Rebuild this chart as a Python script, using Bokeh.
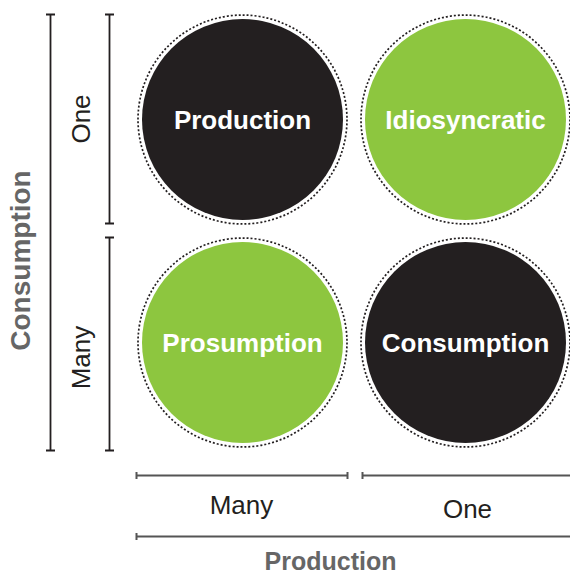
import math
from bokeh.plotting import figure
from bokeh.models import Range1d, ColumnDataSource
from bokeh.core.properties import value
from bokeh.embed import file_html
from bokeh.resources import INLINE

# ---- data ----
production_levels = ["Many", "One"]          # x categories, left to right
consumption_levels = ["Many", "One"]         # y categories, bottom to top
quadrant_production = ["Many", "One", "Many", "One"]
quadrant_consumption = ["One", "One", "Many", "Many"]
quadrant_labels = ["Production", "Idiosyncratic", "Prosumption", "Consumption"]
x_title = "Production"
y_title = "Consumption"

# ---- styles ----
BLACK = "#231f20"
GREEN = "#8dc63f"
GRAY = "#666666"
quadrant_color = {"Production": BLACK, "Idiosyncratic": GREEN,
                  "Prosumption": GREEN, "Consumption": BLACK}
FONT = "Liberation Sans"

# ---- layout (page pixels -> cell units) ----
W, H = 570, 575
OFF = 0
CELL = 223.0
X0_PX, Y0_PX = 130.5, 453.5


def ux(px):
    return (px - X0_PX) / CELL


def uy(py):
    return (Y0_PX - py) / CELL


p = figure(width=W, height=H, output_backend="svg", toolbar_location=None,
           x_range=Range1d(ux(OFF), ux(OFF + W)), y_range=Range1d(uy(OFF + H), uy(OFF)),
           min_border=0, outline_line_color=None, background_fill_color="white")
p.axis.visible = False
p.grid.visible = False

xs = [production_levels.index(v) + 0.5 for v in quadrant_production]
ys = [consumption_levels.index(v) + 0.5 for v in quadrant_consumption]
src = ColumnDataSource(dict(x=xs, y=ys, label=quadrant_labels,
                            color=[quadrant_color[l] for l in quadrant_labels]))

# dotted outer rings
p.circle("x", "y", radius=104.5 / CELL, source=src, fill_color=None,
         line_color=BLACK, line_width=1.7, line_dash="2 2")
# filled discs
p.circle("x", "y", radius=100.5 / CELL, source=src, fill_color="color",
         line_color=None)
p.text("x", "y", text="label", source=src, text_color="white",
       text_font=value(FONT), text_font_style="bold", text_font_size="26px",
       text_align="center", text_baseline="middle")

# ---- left brackets ----
cap = 4.5 / CELL
gap_px = 7.5
lx_outer, lx_inner = ux(50), ux(109)
top, bot = 2 - 6.5 / CELL, 0 + 3.5 / CELL
seg = dict(x0=[], y0=[], x1=[], y1=[])


def vbracket(x, ya, yb):
    seg["x0"] += [x, x - cap, x - cap]
    seg["y0"] += [ya, ya, yb]
    seg["x1"] += [x, x + cap, x + cap]
    seg["y1"] += [yb, ya, yb]


vbracket(lx_outer, bot, top)
for i, lvl in enumerate(consumption_levels):
    lo = i + (gap_px / CELL if i > 0 else 3.5 / CELL)
    hi = i + 1 - (6.5 / CELL)
    vbracket(lx_inner, lo, hi)
p.segment("x0", "y0", "x1", "y1", source=ColumnDataSource(seg),
          line_color=BLACK, line_width=1.8)

# ---- bottom brackets ----
hseg = dict(x0=[], y0=[], x1=[], y1=[])
vcap = 3.5 / CELL


def hbracket(y, xa, xb):
    hseg["x0"] += [xa, xa, xb]
    hseg["y0"] += [y, y - vcap, y - vcap]
    hseg["x1"] += [xb, xa, xb]
    hseg["y1"] += [y, y + vcap, y + vcap]


by_inner, by_outer = uy(475), uy(536)
for i, lvl in enumerate(production_levels):
    lo = i + (5.5 / CELL if i == 0 else 8.5 / CELL)
    hi = i + 1 - (6.5 / CELL) if i == 0 else ux(580)
    hbracket(by_inner, lo, hi)
hbracket(by_outer, 5.5 / CELL, ux(580))
p.segment("x0", "y0", "x1", "y1", source=ColumnDataSource(hseg),
          line_color="#555555", line_width=2)

# ---- tick-like labels ----
p.text(x=[ux(80)] * 2, y=[uy(357), uy(118.5)], text=consumption_levels,
       angle=math.pi / 2, text_color=BLACK, text_font=value(FONT),
       text_font_size="26px", text_align="center", text_baseline="middle")
p.text(x=[ux(241), ux(467)], y=[uy(504), uy(508)], text=production_levels,
       text_color=BLACK, text_font=value(FONT),
       text_font_size="26px", text_align="center", text_baseline="middle")

# ---- titles ----
p.text(x=[ux(330)], y=[uy(560)], text=[x_title], text_color=GRAY,
       text_font=value(FONT), text_font_style="bold", text_font_size="25px",
       text_align="center", text_baseline="middle")
p.text(x=[ux(20)], y=[uy(260)], text=[y_title], text_color=GRAY, angle=math.pi / 2,
       text_font=value(FONT), text_font_style="bold", text_font_size="28px",
       text_align="center", text_baseline="middle")

open("out.html", "w").write(file_html(p, INLINE))
